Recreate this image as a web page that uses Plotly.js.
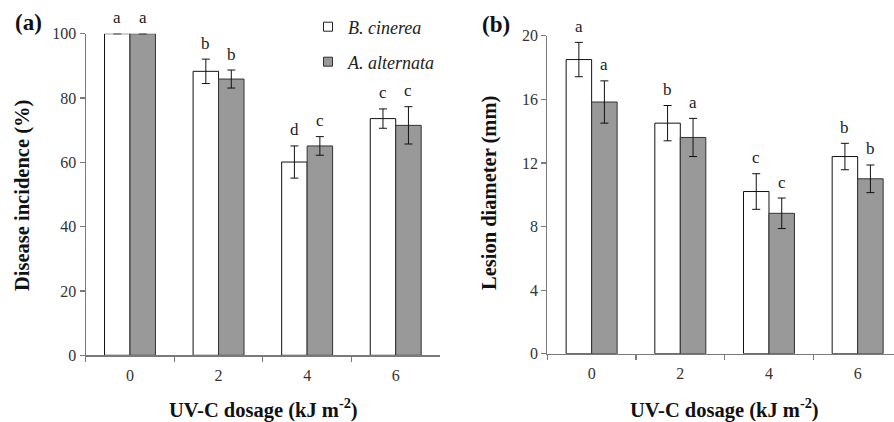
<!DOCTYPE html>
<html><head><meta charset="utf-8">
<script src="https://cdn.plot.ly/plotly-3.0.1.min.js"></script>
<style>html,body{margin:0;padding:0;background:#fff;}#c{width:894px;height:422px;}</style>
</head><body><div id="c"></div>
<script>
// ---- data ----
const doses = ['0', '2', '4', '6'];
const seriesNames = ['B. cinerea', 'A. alternata'];
// (a) Disease incidence (%)
const incidenceB = [100, 88.3, 60.1, 73.6];
const incidenceBErr = [0, 3.8, 5.0, 3.0];
const incidenceA = [100, 85.9, 65.1, 71.5];
const incidenceAErr = [0, 2.8, 2.9, 5.8];
const incidenceLettersB = ['a', 'b', 'd', 'c'];
const incidenceLettersA = ['a', 'b', 'c', 'c'];
// (b) Lesion diameter (mm)
const lesionB = [18.5, 14.5, 10.2, 12.4];
const lesionBErr = [1.08, 1.11, 1.12, 0.83];
const lesionA = [15.83, 13.6, 8.83, 11.0];
const lesionAErr = [1.33, 1.2, 0.96, 0.87];
const lesionLettersB = ['a', 'b', 'c', 'b'];
const lesionLettersA = ['a', 'a', 'c', 'b'];

// ---- style ----
const W = 894, H = 422;
const SERIF = 'Liberation Serif, Times New Roman, serif';
const whiteFill = '#ffffff', grayFill = '#999999';
const axisCol = '#7a7a7a';
const catPx = 88.7;           // px per category
const barPx = 25.5;           // px per bar
const bargap = 1 - 2 * barPx / catPx;

function bar(x, y, err, name, fill, xa, ya) {
  return {
    type: 'bar', x: x, y: y, name: '<i>' + name + '</i>',
    xaxis: xa, yaxis: ya, showlegend: false,
    marker: {color: fill, line: {color: fill === whiteFill ? '#111' : '#333', width: 1}},
    error_y: {type: 'data', array: err, visible: true, color: '#111', thickness: 1, width: 4},
    hoverinfo: 'skip'
  };
}
function legendMarker(name, fill, legend) {
  return {
    type: 'scatter', mode: 'markers', x: [null], y: [null], name: '<i>' + name + '</i>',
    legend: legend, showlegend: true, xaxis: 'x', yaxis: 'y',
    marker: {symbol: 'square', size: 9, color: fill, line: {color: fill === whiteFill ? '#222' : '#333', width: 1}}
  };
}

const traces = [
  bar(doses, incidenceB, incidenceBErr, seriesNames[0], whiteFill, 'x', 'y'),
  bar(doses, incidenceA, incidenceAErr, seriesNames[1], grayFill, 'x', 'y'),
  bar(doses, lesionB, lesionBErr, seriesNames[0], whiteFill, 'x2', 'y2'),
  bar(doses, lesionA, lesionAErr, seriesNames[1], grayFill, 'x2', 'y2'),
  legendMarker(seriesNames[0], whiteFill, 'legend'),
  legendMarker(seriesNames[1], grayFill, 'legend2')
];

const tickFont = {family: SERIF, size: 16, color: '#333'};
function xax(domain, range, anchor) {
  return {domain: domain, range: range, anchor: anchor, type: 'category',
    tickson: 'boundaries', ticks: 'outside', ticklen: 5, tickcolor: axisCol, tickwidth: 1.2,
    ticklabelstandoff: 5,
    showline: true, linecolor: axisCol, linewidth: 1.2, showgrid: false, zeroline: false,
    tickfont: tickFont, fixedrange: true};
}
function yax(domain, range, dtick, anchor) {
  return {domain: domain, range: range, dtick: dtick, anchor: anchor,
    ticks: 'outside', ticklen: 5, tickcolor: axisCol, tickwidth: 1.2,
    showline: true, linecolor: axisCol, linewidth: 1.2, showgrid: false, zeroline: false,
    tickfont: tickFont, fixedrange: true};
}

const ann = [];
const letterFont = {family: SERIF, size: 17, color: '#222'};
function letters(vals, errs, labs, side, xa, ya) {
  vals.forEach((v, i) => {
    ann.push({x: i, y: v + errs[i], xref: xa, yref: ya, text: labs[i], showarrow: false,
      xanchor: 'center', yanchor: 'middle', xshift: side * barPx / 2, yshift: 16, font: letterFont});
  });
}
letters(incidenceB, incidenceBErr, incidenceLettersB, -1, 'x', 'y');
letters(incidenceA, incidenceAErr, incidenceLettersA, 1, 'x', 'y');
letters(lesionB, lesionBErr, lesionLettersB, -1, 'x2', 'y2');
letters(lesionA, lesionAErr, lesionLettersA, 1, 'x2', 'y2');

function paperText(text, px, py, size, rot) {
  ann.push({xref: 'paper', yref: 'paper', x: px / W, y: 1 - py / H, text: text, showarrow: false,
    xanchor: 'center', yanchor: 'middle', textangle: rot || 0,
    font: {family: SERIF, size: size, color: '#111'}});
}
paperText('<b>(a)</b>', 29, 23, 23);
paperText('<b>(b)</b>', 496, 24, 23);
paperText('<b>Disease incidence (%)</b>', 22, 196, 20.5, -90);
paperText('<b>Lesion diameter (mm)</b>', 489, 193, 20.5, -90);
paperText('<b>UV-C dosage (kJ m<sup>-2</sup>)</b>', 263, 408, 20.5);
paperText('<b>UV-C dosage (kJ m<sup>-2</sup>)</b>', 724, 408, 20.5);

const legFont = {family: SERIF, size: 18, color: '#222'};
const layout = {
  width: W, height: H, margin: {l: 0, r: 0, t: 0, b: 0},
  paper_bgcolor: '#fff', plot_bgcolor: 'rgba(0,0,0,0)',
  barmode: 'group', bargap: bargap, bargroupgap: 0,
  font: {family: SERIF},
  xaxis: xax([85.7 / W, 440 / W], [-0.5, 3.5], 'y'),
  yaxis: yax([(H - 355.3) / H, (H - 33.7) / H], [0, 100], 20, 'x'),
  xaxis2: xax([547.3 / W, 1], [-0.5, 3.5 - (902 - W) / catPx], 'y2'),
  yaxis2: yax([(H - 353.7) / H, (H - 35.7) / H], [0, 20], 4, 'x2'),
  legend: {x: 308 / W, y: 1 - 27 / H, xanchor: 'left', yanchor: 'middle', bgcolor: 'rgba(0,0,0,0)',
    font: legFont, itemwidth: 30, borderwidth: 0},
  legend2: {x: 308 / W, y: 1 - 62 / H, xanchor: 'left', yanchor: 'middle', bgcolor: 'rgba(0,0,0,0)',
    font: legFont, itemwidth: 30, borderwidth: 0},
  annotations: ann,
  showlegend: true
};
Plotly.newPlot('c', traces, layout, {staticPlot: true, displayModeBar: false});
</script>
</body></html>
